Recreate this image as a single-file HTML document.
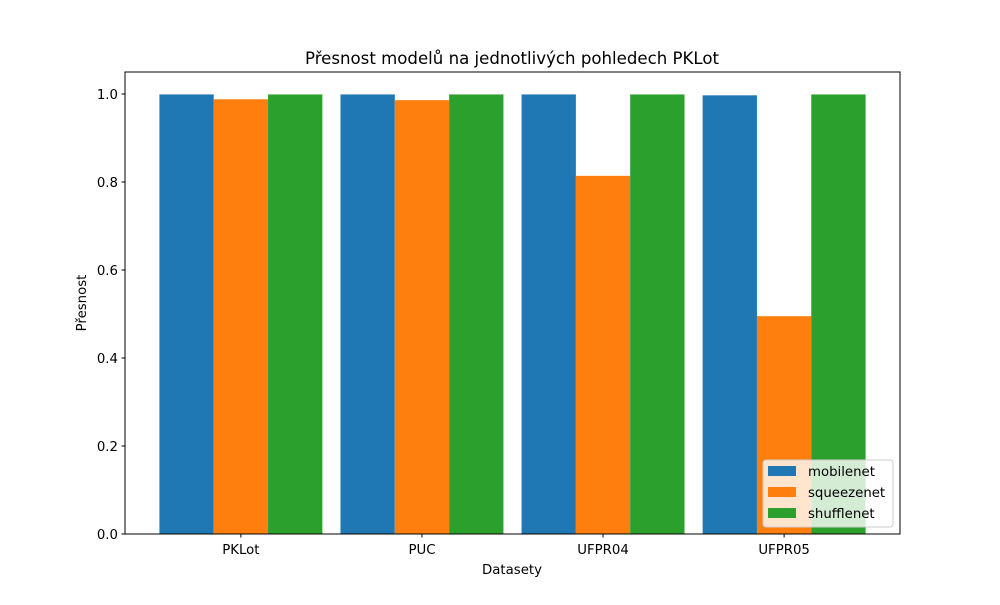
<!DOCTYPE html>
<html><head><meta charset="utf-8"><style>
body{margin:0;background:#fff}
svg text{font-family:"DejaVu Sans","Liberation Sans",sans-serif;fill:#000}
</style></head><body>
<svg id="chart" width="1000" height="600" xmlns="http://www.w3.org/2000/svg">
<rect width="1000" height="600" fill="#fff"/>
<g id="bars"></g>
<g id="axes"></g>
</svg>
<script>
const categories=["PKLot","PUC","UFPR04","UFPR05"];
const seriesNames=["mobilenet","squeezenet","shufflenet"];
const mobilenet=[0.999,0.999,0.999,0.997];
const squeezenet=[0.988,0.986,0.814,0.495];
const shufflenet=[0.999,0.999,0.999,0.999];
const yTicks=[0,0.2,0.4,0.6,0.8,1.0];
const colors=["#1f77b4","#ff7f0e","#2ca02c"];
const L=125,R=900,T=72,B=534,xmin=-0.64,xmax=3.64,ymax=1.05;
const sx=v=>L+(v-xmin)/(xmax-xmin)*(R-L);
const sy=v=>B-v/ymax*(B-T);
const NS="http://www.w3.org/2000/svg";
function mk(t,a,p){const e=document.createElementNS(NS,t);for(const k in a)e.setAttribute(k,a[k]);p.appendChild(e);return e;}
const bars=document.getElementById('bars'),axes=document.getElementById('axes');
const data=[mobilenet,squeezenet,shufflenet];const w=0.3;
data.forEach((s,si)=>s.forEach((v,ci)=>{
 const x0=sx(ci+(si-1)*w-w/2),x1=sx(ci+(si-1)*w+w/2);
 const r=mk('rect',{x:x0,y:sy(v),width:x1-x0,height:sy(0)-sy(v),fill:colors[si]},bars);
 
 
}));
const f=mk('rect',{x:L,y:T,width:R-L,height:B-T,fill:'none',stroke:'#000','stroke-width':1},axes);

yTicks.forEach(v=>{
 mk('line',{x1:L-3.5,x2:L,y1:sy(v),y2:sy(v),stroke:'#000'},axes);
 const t=mk('text',{x:L-7,y:sy(v)+5,'text-anchor':'end','font-size':13.3},axes);t.textContent=v.toFixed(1);
 
});
categories.forEach((c,i)=>{
 mk('line',{x1:sx(i),x2:sx(i),y1:B,y2:B+3.5,stroke:'#000'},axes);
 const t=mk('text',{x:sx(i),y:B+20,'text-anchor':'middle','font-size':13.3},axes);t.textContent=c;
 
});
let t=mk('text',{x:512,y:574,'text-anchor':'middle','font-size':13.3},axes);t.textContent='Datasety';

t=mk('text',{x:86,y:303,'text-anchor':'middle','font-size':13.3,transform:'rotate(-90 86 303)'},axes);t.textContent='Přesnost';

t=mk('text',{x:512,y:64,'text-anchor':'middle','font-size':16.6},axes);t.textContent='Přesnost modelů na jednotlivých pohledech PKLot';

const lg=mk('g',{},axes);
mk('rect',{x:763,y:460,width:130,height:67,rx:3,fill:'#fff','fill-opacity':0.8,stroke:'#ccc'},lg);
seriesNames.forEach((n,i)=>{
 const e=mk('g',{},lg);
 mk('rect',{x:768,y:466+i*21,width:28,height:10,fill:colors[i]},e);
 const tt=mk('text',{x:808,y:476+i*21,'font-size':13.3},e);tt.textContent=n;
});
</script>
</body></html>
